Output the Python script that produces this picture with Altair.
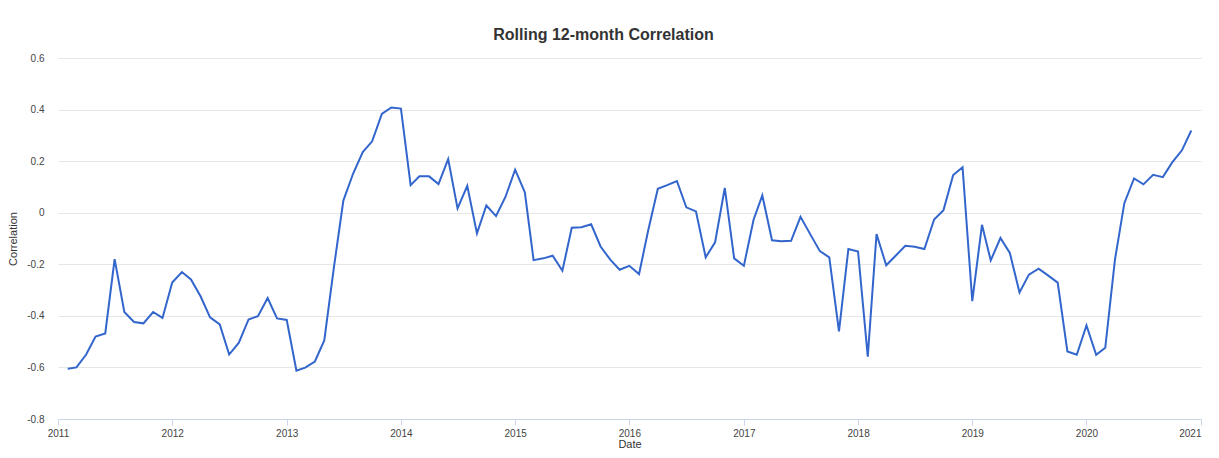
import altair as alt
import pandas as pd

title_text = "Rolling 12-month Correlation"
y_title = "Correlation"
x_title = "Date"

correlation = [
    -0.605, -0.60, -0.55, -0.48, -0.468, -0.18, -0.385, -0.424, -0.429, -0.385, -0.408, -0.271,
    -0.23, -0.259, -0.325, -0.406, -0.433, -0.55, -0.504, -0.414, -0.401, -0.331, -0.41, -0.416,
    -0.613, -0.601, -0.577, -0.495, -0.21, 0.047, 0.151, 0.235, 0.277, 0.383, 0.408, 0.404,
    0.107, 0.141, 0.141, 0.111, 0.208, 0.017, 0.104, -0.08, 0.028, -0.013, 0.061, 0.167,
    0.079, -0.184, -0.177, -0.167, -0.225, -0.058, -0.056, -0.045, -0.131, -0.182, -0.221, -0.206,
    -0.238, -0.07, 0.093, 0.107, 0.123, 0.021, 0.005, -0.173, -0.115, 0.096, -0.177, -0.206,
    -0.027, 0.067, -0.107, -0.111, -0.109, -0.016, -0.083, -0.149, -0.173, -0.46, -0.141, -0.151,
    -0.558, -0.083, -0.204, -0.167, -0.128, -0.132, -0.141, -0.026, 0.01, 0.146, 0.176, -0.343,
    -0.047, -0.185, -0.098, -0.156, -0.309, -0.24, -0.217, -0.244, -0.271, -0.538, -0.551, -0.437,
    -0.551, -0.524, -0.182, 0.037, 0.133, 0.11, 0.147, 0.138, 0.195, 0.242, 0.319,
]
dates = pd.date_range("2011-02-01", periods=len(correlation), freq="MS").strftime("%Y-%m-%d").tolist()
year_ticks = list(range(2011, 2022))
y_ticks = [-0.8, -0.6, -0.4, -0.2, 0, 0.2, 0.4, 0.6]

df = pd.DataFrame({"date": dates, "corr": correlation})

FONT = "Liberation Sans"

chart = alt.Chart(df).mark_line(color="#3366cc", strokeWidth=2, clip=False).encode(
    x=alt.X(
        "date:T",
        title=x_title,
        scale=alt.Scale(
            type="utc",
            domain=[alt.DateTime(year=2011, month=1, date=1, utc=True),
                    alt.DateTime(year=2021, month=1, date=1, utc=True)],
            nice=False,
        ),
        axis=alt.Axis(
            values=[alt.DateTime(year=y, month=1, date=1, utc=True) for y in year_ticks],
            format="%Y",
            formatType="utc",
            grid=False,
            labelFlush=False,
            labelOverlap=False,
            labelAlign={"condition": {"test": "datum.value > 1600000000000", "value": "right"}, "value": "center"},
            domainColor="#ccd6eb",
            tickColor="#ccd6eb",
            tickSize=6,
            labelPadding=3,
            labelFontSize=10,
            labelColor="#444444",
            labelFont=FONT,
            titleFont=FONT,
            titleFontSize=11,
            titleFontWeight="normal",
            titleColor="#333333",
            titleBaseline="bottom",
            titleY=30,
        ),
    ),
    y=alt.Y(
        "corr:Q",
        title=y_title,
        scale=alt.Scale(domain=[-0.8, 0.6], nice=False, zero=False),
        axis=alt.Axis(
            values=y_ticks,
            labelExpr="datum.value == 0 ? '0' : toString(round(datum.value * 10) / 10)",
            grid=True,
            gridColor="#e6e6e6",
            domain=False,
            ticks=False,
            labelPadding=14,
            labelFontSize=10,
            labelColor="#444444",
            labelFont=FONT,
            titleFont=FONT,
            titleFontSize=11,
            titleFontWeight="normal",
            titleColor="#333333",
            titleAngle=-90,
            titleAlign="center",
            titleBaseline="middle",
            titleX=-45,
            titleY=180.5,
        ),
    ),
).properties(
    width=1143,
    height=361,
    title=alt.TitleParams(
        text=title_text,
        font=FONT,
        fontSize=16,
        fontWeight="bold",
        color="#333333",
        anchor="middle",
        frame="group",
        baseline="alphabetic",
        offset=-3,
        dx=-26,
    ),
    autosize=alt.AutoSizeParams(type="none"),
    padding={"left": 50, "top": 50, "right": 10, "bottom": 31},
).configure_view(stroke=None)

chart.save("out.html", embed_options={"renderer": "svg", "actions": False})
